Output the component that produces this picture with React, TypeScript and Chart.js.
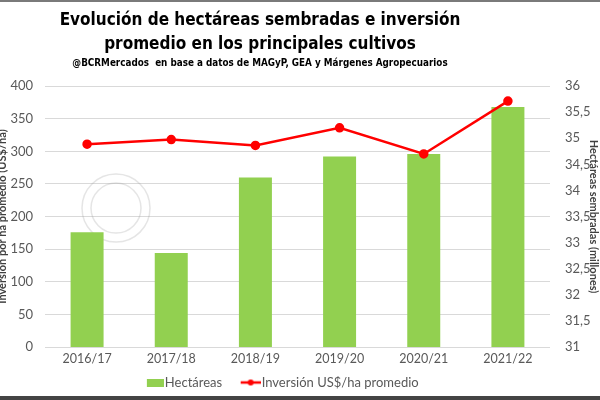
import React, { useEffect, useRef } from "react";
import { Chart, registerables } from "chart.js";

Chart.register(...registerables);

const categories = ["2016/17", "2017/18", "2018/19", "2019/20", "2020/21", "2021/22"];
const hectareas = [33.2, 32.8, 34.25, 34.65, 34.7, 35.6];
const inversion = [311, 318, 309, 336, 296, 377];
const titleLines = ["Evolución de hectáreas sembradas e inversión", "promedio en los principales cultivos"];
const subtitleText = "@BCRMercados  en base a datos de MAGyP, GEA y Márgenes Agropecuarios";
const seriesNames = ["Hectáreas", "Inversión US$/ha promedio"];
const leftAxisTitle = "Inversión por ha promedio (US$/ha)";
const rightAxisTitle = "Hectáreas sembradas (millones)";

const GREEN = "#92D050";
const RED = "#FF0000";
const TICK = "#595959";
const narrow = "'DejaVu Sans Condensed', 'Liberation Sans Narrow', sans-serif";
const body = "Lato, 'Open Sans', sans-serif";

const BW = 29;
const IW = 40;

function boxImg(): HTMLCanvasElement {
  const c = document.createElement("canvas");
  c.width = IW;
  c.height = 8;
  const g = c.getContext("2d")!;
  g.fillStyle = GREEN;
  g.fillRect(IW - 17, 0, 17, 8);
  return c;
}

function lineImg(): HTMLCanvasElement {
  const c = document.createElement("canvas");
  c.width = IW;
  c.height = 8;
  const g = c.getContext("2d")!;
  g.strokeStyle = RED;
  g.lineWidth = 2.5;
  g.beginPath();
  g.moveTo(IW - 20, 4);
  g.lineTo(IW, 4);
  g.stroke();
  g.fillStyle = RED;
  g.beginPath();
  g.arc(IW - 10, 4, 3, 0, Math.PI * 2);
  g.fill();
  return c;
}

const shiftPlugin = {
  id: "shiftBlocks",
  afterLayout(chart: any) {
    for (const box of chart.boxes) {
      const t = box.options && box.options.text;
      if (t === titleLines || t === subtitleText) {
        box.right = box.right - 76;
      }
    }
    if (chart.legend) {
      chart.legend.right = chart.legend.right - 48;
      chart.legend.top = chart.legend.top + 3;
      chart.legend.bottom = chart.legend.bottom + 3;
    }
  },
};

const sealPlugin = {
  id: "seal",
  beforeDatasetsDraw(chart: any) {
    const { ctx, chartArea } = chart;
    const cx = chartArea.left + 71;
    const cy = chartArea.top + 122;
    ctx.save();
    ctx.strokeStyle = "rgba(150,150,150,0.25)";
    ctx.lineWidth = 1.5;
    ctx.beginPath();
    ctx.arc(cx, cy, 34, 0, Math.PI * 2);
    ctx.stroke();
    ctx.beginPath();
    ctx.arc(cx, cy, 25, 0, Math.PI * 2);
    ctx.stroke();
    ctx.restore();
  },
};

export default function App() {
  const ref = useRef<HTMLCanvasElement | null>(null);
  useEffect(() => {
    if (!ref.current) return;
    const imgs = [boxImg(), lineImg()];
    const chart = new Chart(ref.current, {
      data: {
        labels: categories,
        datasets: [
          {
            type: "bar",
            label: seriesNames[0],
            data: hectareas,
            backgroundColor: GREEN,
            yAxisID: "yr",
            order: 2,
            categoryPercentage: 0.8,
            barPercentage: 0.49,
          },
          {
            type: "line",
            label: seriesNames[1],
            data: inversion,
            borderColor: RED,
            backgroundColor: RED,
            borderWidth: 2.5,
            pointRadius: 3.5,
            pointBackgroundColor: RED,
            pointBorderColor: RED,
            yAxisID: "y",
            order: 1,
            tension: 0,
          },
        ],
      } as any,
      options: {
        animation: false,
        responsive: true,
        maintainAspectRatio: false,
        layout: { padding: { left: 0, right: 0, top: 0, bottom: 0 } },
        plugins: {
          title: {
            display: true,
            text: titleLines,
            color: "#000",
            font: { family: narrow, size: 17, weight: "bold", lineHeight: "23.1px" },
            padding: { top: 7.5, bottom: 0 },
          },
          subtitle: {
            display: true,
            text: subtitleText,
            color: "#000",
            font: { family: narrow, size: 9.8, weight: "bold", lineHeight: "14.4px" },
            padding: { top: 1, bottom: 15 },
          },
          legend: {
            position: "bottom",
            labels: {
              usePointStyle: true,
              pointStyleWidth: BW,
              boxHeight: 8,
              padding: 4,
              color: TICK,
              font: { family: body, size: 13 },
              generateLabels: () =>
                seriesNames.map((n, i) => ({
                  text: n,
                  pointStyle: imgs[i] as any,
                  fillStyle: "transparent",
                  strokeStyle: "transparent",
                  lineWidth: 0,
                  hidden: false,
                  datasetIndex: i,
                  fontColor: TICK,
                })),
            },
          },
          tooltip: { enabled: false },
        },
        scales: {
          x: {
            grid: { display: false, drawTicks: false },
            border: { display: false },
            ticks: { color: TICK, font: { family: body, size: 12.5 }, padding: 4 },
            afterFit: (s: any) => {
              s.height = 22;
            },
          },
          y: {
            position: "left",
            min: 0,
            max: 400,
            ticks: { stepSize: 50, color: TICK, font: { family: body, size: 13 }, padding: 12 },
            grid: { color: "#D9D9D9", drawTicks: false },
            border: { display: false },
            title: {
              display: true,
              text: leftAxisTitle,
              color: "#404040",
              font: { family: body, size: 11, weight: "bold" },
            },
            afterFit: (s: any) => {
              s.width = 53;
            },
          },
          yr: {
            position: "right",
            min: 31,
            max: 36,
            ticks: {
              stepSize: 0.5,
              color: TICK,
              font: { family: body, size: 13 },
              padding: 15,
              callback: (v: any) => String(v).replace(".", ","),
            },
            grid: { display: false, drawTicks: false },
            border: { display: false },
            title: {
              display: true,
              text: rightAxisTitle,
              color: "#404040",
              font: { family: body, size: 11, weight: "bold" },
            },
            afterFit: (s: any) => {
              s.width = 54;
            },
          },
        },
      } as any,
      plugins: [shiftPlugin, sealPlugin],
    });
    return () => chart.destroy();
  }, []);

  return (
    <div
      style={{
        position: "fixed",
        left: 0,
        top: 0,
        width: 600,
        height: 400,
        overflow: "hidden",
        background: "#fff",
      }}
    >
      <div style={{ position: "absolute", left: 0, top: 0, width: 600, height: 2, background: "#7a7a7a" }} />
      <div style={{ position: "absolute", left: -8, top: 2, width: 612, height: 394 }}>
        <canvas ref={ref} />
      </div>
      <div style={{ position: "absolute", left: 0, top: 396, width: 600, height: 4, background: "#444" }} />
    </div>
  );
}
